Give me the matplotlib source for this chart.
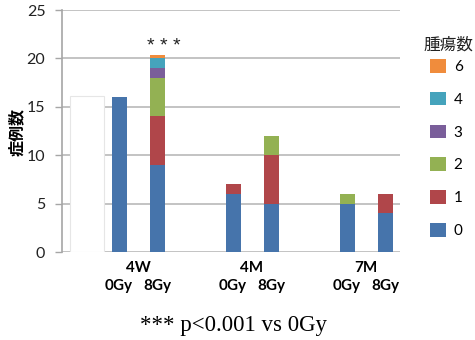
import matplotlib.pyplot as plt
from matplotlib.patches import Patch, Rectangle
import numpy as np

plt.rcParams['font.family'] = ['Lato', 'Noto Sans CJK JP', 'DejaVu Sans']

groups = ["4W", "4M", "7M"]
doses = ["0Gy", "8Gy"]
tumor_counts = ["0", "1", "2", "3", "4", "6"]
colors = ["#4674AB", "#B0464A", "#93B153", "#7A5E9A", "#45A3BC", "#F08C3C"]

# bars in order: 4W-0Gy, 4W-8Gy, 4M-0Gy, 4M-8Gy, 7M-0Gy, 7M-8Gy
n0 = [16, 9, 6, 5, 5, 4]
n1 = [0, 5, 1, 5, 0, 2]
n2 = [0, 4, 0, 2, 1, 0]
n3 = [0, 1, 0, 0, 0, 0]
n4 = [0, 1, 0, 0, 0, 0]
n6 = [0, 0.4, 0, 0, 0, 0]
significant = [False, True, False, False, False, False]

series = [n0, n1, n2, n3, n4, n6]

fig = plt.figure(figsize=(4.75, 3.4), dpi=100)
ax = fig.add_axes([62 / 475, 1 - 252 / 340, 338 / 475, 242 / 340])

offset = 19 / 114
width = 15 / 114
x = np.array([g + s * offset for g in range(len(groups)) for s in (-1, 1)])

bottom = np.zeros(len(x))
for vals, c in zip(series, colors):
    vals = np.array(vals, dtype=float)
    ax.bar(x, vals, width, bottom=bottom, color=c, edgecolor="none", zorder=3)
    bottom += vals

for xi, tot, sig in zip(x, bottom, significant):
    if sig:
        ax.text(xi + 0.06, tot + 0.8, "* * *", ha="center", va="center", fontsize=14,
                family="Liberation Sans", color="#222222")

# white box covering the gridlines on the left
ax.add_patch(Rectangle((-0.596, 0), 0.298, 16.1, facecolor="white",
                       edgecolor="#E6E6E6", linewidth=0.8, zorder=2))

ax.set_xlim(-0.667, 2.298)
ax.set_ylim(0, 25)
ax.set_yticks(range(0, 26, 5))
ax.yaxis.grid(True, color="#BEBEBE", linewidth=1.3, zorder=0)
ax.set_axisbelow(True)
ax.set_xticks([])
for s in ["top", "right", "bottom"]:
    ax.spines[s].set_visible(False)
ax.spines["left"].set_color("#A6A6A6")
ax.spines["left"].set_linewidth(1.2)
ax.tick_params(axis="y", length=5, width=1, color="#A6A6A6", labelsize=11.5,
               labelcolor="#222222", pad=7)
ax.set_ylabel("症例数", fontsize=11.5, fontweight="bold",
              family=["Noto Sans CJK JP"])
ax.yaxis.set_label_coords(-0.109, 0.496)

for g, name in enumerate(groups):
    ax.text(g, -1.7, name, ha="center", va="center", fontsize=11, fontweight="bold")
for xi, d in zip(x, doses * len(groups)):
    ax.text(xi, -3.5, d, ha="center", va="center", fontsize=11, fontweight="bold")

handles = [Patch(facecolor=c, edgecolor="none") for c in colors][::-1]
leg = fig.legend(handles, tumor_counts[::-1], loc="upper left",
                 bbox_to_anchor=(430 / 475, 1 - 59 / 340), frameon=False,
                 handlelength=1.05, handleheight=1.0, labelspacing=1.16,
                 fontsize=11, handletextpad=0.5, borderaxespad=0, borderpad=0)
fig.text(448 / 475, 1 - 45 / 340, "腫瘍数", ha="center", va="center",
         fontsize=12, family=["Noto Sans CJK JP"], color="#222222")

fig.text(234 / 475, 1 - 325 / 340, "*** p<0.001 vs 0Gy", ha="center", va="center",
         fontsize=16.5, family="Liberation Serif")

fig.savefig("out.png", dpi=100)
